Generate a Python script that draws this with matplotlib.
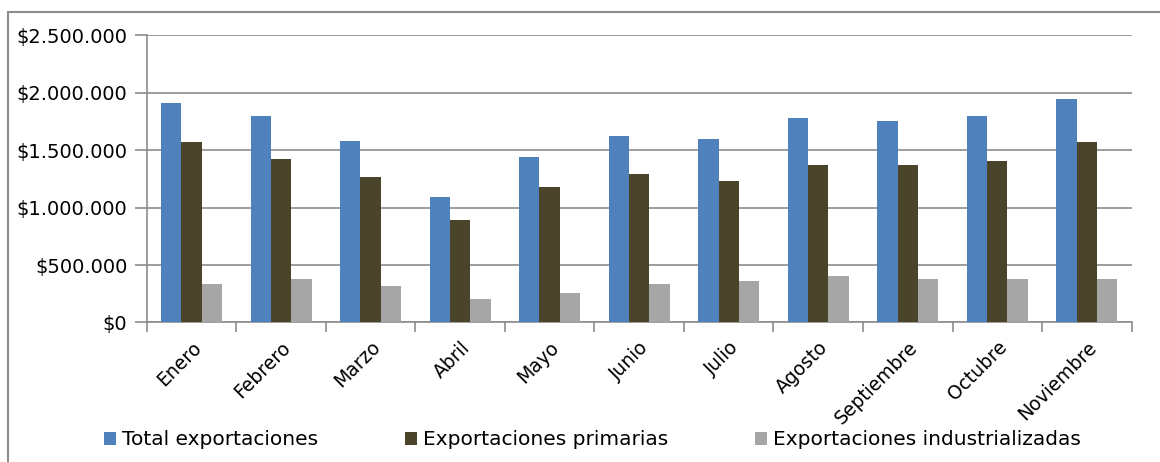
import numpy as np
import matplotlib.pyplot as plt
from matplotlib.patches import Rectangle
from matplotlib.ticker import FuncFormatter, FixedLocator

# Monthly exports (pesos)
meses = ['Enero', 'Febrero', 'Marzo', 'Abril', 'Mayo', 'Junio', 'Julio',
         'Agosto', 'Septiembre', 'Octubre', 'Noviembre']
total = [1909000, 1796000, 1578000, 1089000, 1436000, 1622000, 1593000,
         1781000, 1752000, 1796000, 1941000]
primarias = [1567000, 1422000, 1262000, 891000, 1175000, 1291000, 1233000,
             1367000, 1367000, 1407000, 1567000]
industrializadas = [332000, 376000, 320000, 200000, 260000, 332000, 361000,
                    404000, 376000, 376000, 376000]

series = [
    ('Total exportaciones', total, '#4F81BD'),
    ('Exportaciones primarias', primarias, '#4A452A'),
    ('Exportaciones industrializadas', industrializadas, '#A6A6A6'),
]

plt.rcParams['font.family'] = 'DejaVu Sans'
grid_color = '#8C8C8C'

fig = plt.figure(figsize=(11.6, 4.62), dpi=100)
ax = fig.add_axes([0.1265, 0.302, 0.849, 0.622])

x = np.arange(len(meses))
w = 0.227
for i, (name, vals, color) in enumerate(series):
    ax.bar(x + (i - 1) * w, vals, width=w, color=color, label=name,
           linewidth=0, zorder=3)

ax.set_xlim(-0.5, len(meses) - 0.5)
ax.set_ylim(0, 2500000)
ax.set_yticks(np.arange(0, 2500001, 500000))
ax.yaxis.set_major_formatter(
    FuncFormatter(lambda v, p: '$' + f'{int(v):,}'.replace(',', '.')))
ax.yaxis.grid(True, color=grid_color, linewidth=1.2, zorder=0)
ax.tick_params(axis='y', length=9, width=1.2, color=grid_color,
               labelsize=14, pad=5)

# category labels at centres, tick marks at the boundaries
ax.set_xticks(x)
ax.set_xticklabels(meses, rotation=45, ha='right', rotation_mode='anchor',
                   fontsize=13.5)
ax.tick_params(axis='x', which='major', length=0, pad=11)
ax.xaxis.set_minor_locator(FixedLocator(np.arange(-0.5, len(meses), 1)))
ax.tick_params(axis='x', which='minor', length=7, width=1.2, color=grid_color)

for side in ['top', 'right']:
    ax.spines[side].set_visible(False)
for side in ['left', 'bottom']:
    ax.spines[side].set_color(grid_color)
    ax.spines[side].set_linewidth(1.2)

# outer chart frame
fig.patches.append(Rectangle((8 / 1160, -0.1), 1.2, 1.1 - 12.5 / 462,
                             transform=fig.transFigure, fill=False,
                             edgecolor='#8C8C8C', linewidth=1.5))

fig.legend(loc='center', bbox_to_anchor=(0.511, 0.048), ncol=3, frameon=False,
           fontsize=14.5, handlelength=0.6, handleheight=0.6,
           handletextpad=0.3, columnspacing=4.3)

fig.savefig('out.png', dpi=100)
